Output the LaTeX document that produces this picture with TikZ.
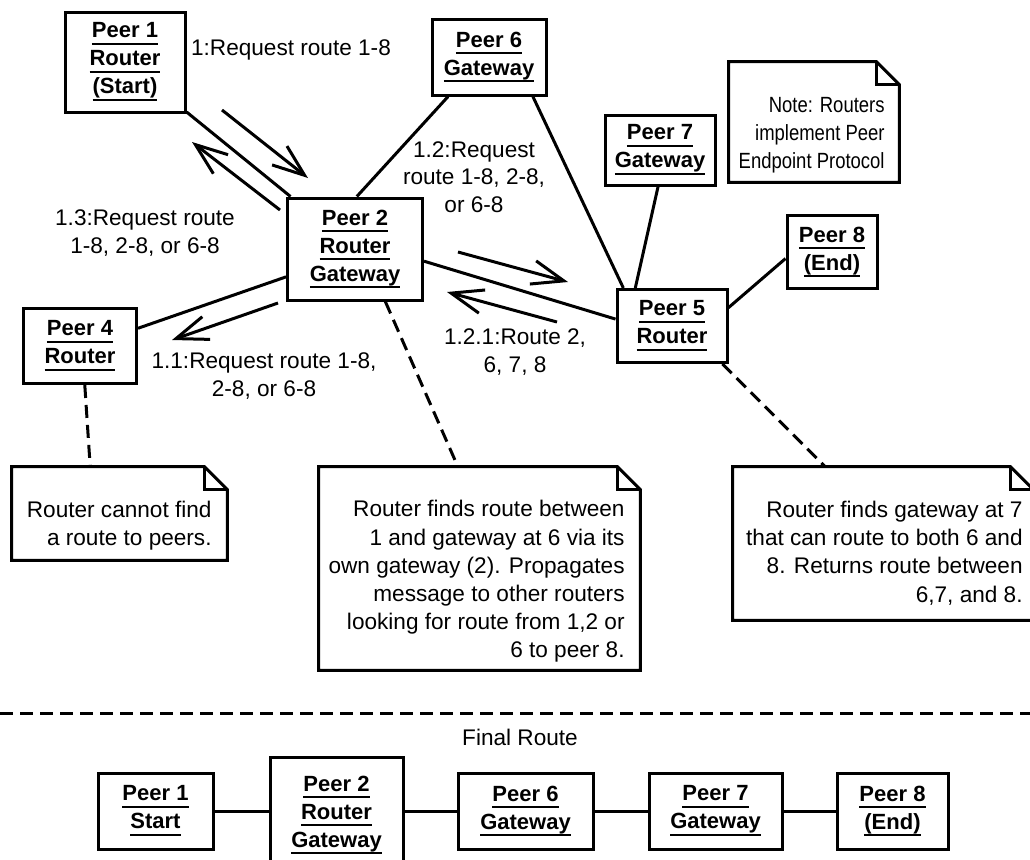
\documentclass[tikz,border=0pt]{standalone}
\usepackage{fontspec}
\setmainfont{Liberation Sans}
\newfontfamily\narrowsans{Liberation Sans}[FakeStretch=0.84]
\usetikzlibrary{arrows.meta,calc}

% underlined line of a peer label
\newcommand\ulx[1]{\leavevmode\setbox0=\hbox{#1}\rlap{\rule[-3.6pt]{\wd0}{0.9pt}}\box0}

% size of the folded corner of a note
\newlength\foldsz
\setlength\foldsz{11.5pt}

% outline of a note with a folded top-right corner
\newcommand\foldnote[1]{%
  \draw[noteline] (#1.north west) -- ([xshift=-\foldsz]#1.north east)
    -- ([yshift=-\foldsz]#1.north east) -- (#1.south east)
    -- (#1.south west) -- cycle;
  \draw[noteline] ([xshift=-\foldsz]#1.north east)
    |- ([yshift=-\foldsz]#1.north east);
}

\tikzset{
  peer/.style={draw, line width=1.5pt, align=center, inner sep=0pt,
    font=\fontsize{11}{14}\selectfont\bfseries},
  lbl/.style={align=center, inner sep=0pt,
    font=\fontsize{11.3}{13.8}\selectfont},
  notetxt/.style={align=right, inner sep=0pt,
    font=\fontsize{11.3}{14.1}\selectfont},
  smallnote/.style={notetxt, font=\narrowsans\fontsize{11}{14}\selectfont},
  noteframe/.style={inner sep=0pt},
  noteline/.style={line width=1.5pt, line join=miter},
  link/.style={line width=1.5pt},
  msg/.style={line width=1.5pt, -{Straight Barb[length=16pt,width=12pt]}},
  anchorline/.style={line width=1.5pt, dash pattern=on 6.5pt off 3.5pt},
}

\begin{document}
\begin{tikzpicture}[x=0.5pt,y=-0.5pt]
\useasboundingbox (0,0) rectangle (1030,859);
\fill[white] (0,0) rectangle (1030,859);

% ---- peers of the search ----
\node[peer, minimum width=60pt, minimum height=50pt] (p1) at (125,62)
  {\ulx{Peer 1}\\\ulx{Router}\\\ulx{(Start)}};
\node[peer, minimum width=67.5pt, minimum height=51pt] (p2) at (355,249)
  {\ulx{Peer 2}\\\ulx{Router}\\\ulx{Gateway}};
\node[peer, minimum width=56.5pt, minimum height=37.5pt] (p4) at (80,346)
  {\ulx{Peer 4}\\\ulx{Router}};
\node[peer, minimum width=55pt, minimum height=36.5pt] (p5) at (672,326)
  {\ulx{Peer 5}\\\ulx{Router}};
\node[peer, minimum width=57pt, minimum height=38pt] (p6) at (489,57)
  {\ulx{Peer 6}\\\ulx{Gateway}};
\node[peer, minimum width=55pt, minimum height=35pt] (p7) at (660,150)
  {\ulx{Peer 7}\\\ulx{Gateway}};
\node[peer, minimum width=45pt, minimum height=36.5pt] (p8) at (832,252)
  {\ulx{Peer 8}\\\ulx{(End)}};

% ---- links between peers ----
\draw[link] (p1) -- (p2);
\draw[link] (p2.88) -- (p6.224);
\draw[link] (p2.202) -- (p4.17);
\draw[link] (p2.350) -- (p5.173);
\draw[link] (p6.318) -- (p5.142);
\draw[link] (p7.267) -- (p5.134);
\draw[link] (p8.188) -- (p5.18);

% ---- messages ----
\coordinate (m1s) at (222,110);  \coordinate (m1e) at (308,178);
\coordinate (m13s) at (280,210); \coordinate (m13e) at (192,142);
\coordinate (m11s) at (278,303); \coordinate (m11e) at (172,340);
\coordinate (m12s) at (458,252); \coordinate (m12e) at (568,282);
\coordinate (m121s) at (557,322); \coordinate (m121e) at (447,292);
\draw[msg] (m1s) -- (m1e);
\draw[msg] (m13s) -- (m13e);
\draw[msg] (m11s) -- (m11e);
\draw[msg] (m12s) -- (m12e);
\draw[msg] (m121s) -- (m121e);

\node[lbl] (l1) at (291,50) {1:Request route 1-8};
\node[lbl] (l13) at (145,233) {1.3:Request route\\1-8, 2-8, or 6-8};
\node[lbl] (l12) at (474,177) {1.2:Request\\route 1-8, 2-8,\\or 6-8};
\node[lbl] (l11) at (264,376) {1.1:Request route 1-8,\\2-8, or 6-8};
\node[lbl] (l121) at (515,352) {1.2.1:Route 2,\\6, 7, 8};

% ---- notes ----
\node[noteframe, minimum width=85pt, minimum height=60pt] (n0) at (814,122) {};
\node[noteframe, minimum width=107.5pt, minimum height=46.5pt] (n4) at (119.5,513.5) {};
\node[noteframe, minimum width=160.5pt, minimum height=101.5pt] (n2) at (479.5,568.5) {};
\node[noteframe, minimum width=150pt, minimum height=76.5pt] (n5) at (883,543.5) {};
\foldnote{n0}
\foldnote{n4}
\foldnote{n2}
\foldnote{n5}

\node[smallnote, anchor=east] (t0) at (885,135)
  {Note: Routers\\implement Peer\\Endpoint Protocol};
\node[notetxt, anchor=east] (t4) at (212,526)
  {Router cannot find\\a route to peers.};
\node[notetxt, anchor=east] (t2) at (625,581.5)
  {Router finds route between\\1 and gateway at 6 via its\\own gateway (2). Propagates\\message to other routers\\looking for route from 1,2 or\\6 to peer 8.};
\node[notetxt, anchor=east] (t5) at (1023,553)
  {Router finds gateway at 7\\that can route to both 6 and\\8. Returns route between\\6,7, and 8.};

\draw[anchorline] (p4.277) -- (n4.122);
\draw[anchorline] (p2.300) -- (n2.102);
\draw[anchorline] (p5.323) -- (n5.127);

% ---- separator and final route ----
\draw[anchorline] (0,713) -- (1030,713);
\node[lbl] (fr) at (520,737) {Final Route};

\node[peer, minimum width=57.5pt, minimum height=38pt] (f1) at (155.5,811)
  {\ulx{Peer 1}\\\ulx{Start}};
\node[peer, minimum width=66.5pt, minimum height=58pt] (f2) at (336.5,815)
  {\ulx{Peer 2}\\\ulx{Router}\\\ulx{Gateway}};
\node[peer, minimum width=67.5pt, minimum height=38pt] (f6) at (525.5,811)
  {\ulx{Peer 6}\\\ulx{Gateway}};
\node[peer, minimum width=66.5pt, minimum height=38pt] (f7) at (715.5,811)
  {\ulx{Peer 7}\\\ulx{Gateway}};
\node[peer, minimum width=55.5pt, minimum height=38pt] (f8) at (892.5,811)
  {\ulx{Peer 8}\\\ulx{(End)}};

\draw[link] (f1.east) -- (f1.east -| f2.west);
\draw[link] (f2.east |- f6.west) -- (f6.west);
\draw[link] (f6) -- (f7);
\draw[link] (f7) -- (f8);
\end{tikzpicture}
\end{document}
